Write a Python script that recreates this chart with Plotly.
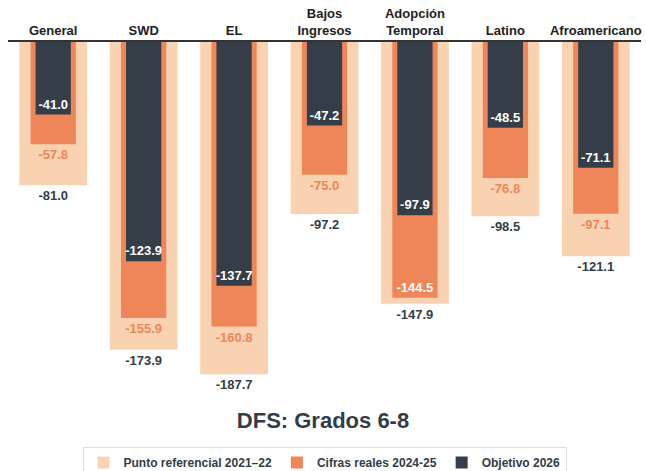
import plotly.graph_objects as go

categories = ["General", "SWD", "EL", "Bajos<br>Ingresos", "Adopción<br>Temporal", "Latino", "Afroamericano"]
benchmark = [-81.0, -173.9, -187.7, -97.2, -147.9, -98.5, -121.1]
actual = [-57.8, -155.9, -160.8, -75.0, -144.5, -76.8, -97.1]
target = [-41.0, -123.9, -137.7, -47.2, -97.9, -48.5, -71.1]

LIGHT = "#F9D3B1"
ORANGE = "#EF8659"
DARK = "#353E48"
TXT = "#333D47"
FONT = "Liberation Sans, Arial, sans-serif"

# Orange labels: inside (white) where the bar nearly reaches the benchmark bar end
act_pos = ["inside" if abs(b - a) < 8 else "outside" for a, b in zip(actual, benchmark)]
act_col = ["white" if p == "inside" else ORANGE for p in act_pos]

fig = go.Figure()
fig.add_trace(go.Bar(
    x=categories, y=benchmark, name="Punto referencial 2021–22",
    marker=dict(color=LIGHT, line=dict(width=0)), width=0.75,
    texttemplate="%{y:.1f}", textposition="outside", textangle=0,
    textfont=dict(color=TXT, size=13, family=FONT, weight="bold"), cliponaxis=False,
    constraintext="none",
))
fig.add_trace(go.Bar(
    x=categories, y=actual, name="Cifras reales 2024-25",
    marker=dict(color=ORANGE, line=dict(width=0)), width=0.5,
    texttemplate="%{y:.1f}", textposition=act_pos, insidetextanchor="end", textangle=0,
    textfont=dict(color=act_col, size=13, family=FONT, weight="bold"), cliponaxis=False,
    constraintext="none",
))
fig.add_trace(go.Bar(
    x=categories, y=target, name="Objetivo 2026",
    marker=dict(color=DARK, line=dict(width=0)), width=0.39,
    texttemplate="%{y:.1f}", textposition="inside", insidetextanchor="end", textangle=0,
    textfont=dict(color="white", size=13, family=FONT, weight="bold"), cliponaxis=False,
    constraintext="none",
))

fig.update_layout(
    width=646, height=471,
    barmode="overlay",
    plot_bgcolor="white", paper_bgcolor="white",
    margin=dict(l=8, r=5, t=42, b=75, autoexpand=False),
    font=dict(family=FONT, color=TXT),
    title=dict(text="DFS: Grados 6-8", x=0.5, xanchor="center",
               yref="container", y=1 - 420 / 471, yanchor="middle",
               font=dict(size=22, color=TXT, family=FONT, weight="bold")),
    legend=dict(orientation="h", x=0.5, xanchor="center",
                yref="container", y=1 - 447 / 471, yanchor="top",
                bordercolor="#DDDDDD", borderwidth=1,
                font=dict(size=12, color=TXT, family=FONT, weight="bold"),
                traceorder="normal"),
    showlegend=True,
    xaxis=dict(side="top", showline=True, linecolor="#333333", linewidth=2,
               ticks="", showgrid=False, range=[-0.5, 6.5], automargin=False,
               tickfont=dict(size=13, color="#222222", family=FONT, weight="bold")),
    yaxis=dict(range=[-200, 0], visible=False, showgrid=False, zeroline=False,
               automargin=False),
)

fig.write_html("out.html",
               config={"displayModeBar": False},
               post_script="document.body.style.margin='0';document.body.style.overflow='hidden';")
